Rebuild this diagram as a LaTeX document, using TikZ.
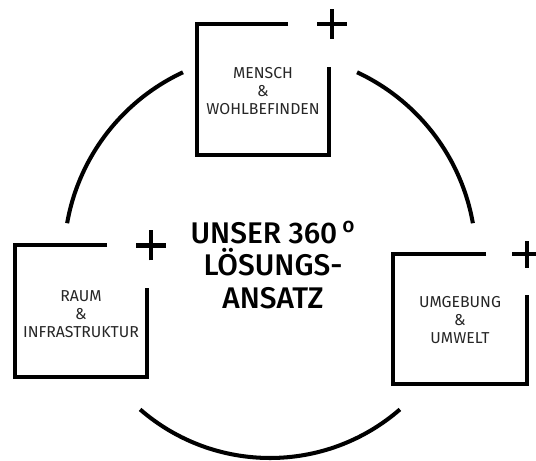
\documentclass[tikz,border=0pt]{standalone}
\usepackage{fontspec}
\setmainfont{Fira Sans}
\newfontfamily\midfont{Fira Sans Medium}
\usepackage{tikz}

\begin{document}
\begin{tikzpicture}[
		frame/.style={line width=2.3pt},
		boxlabel/.style={align=center,text=black!85,font=\fontsize{9}{10.4}\selectfont},
		title/.style={align=center,font=\midfont\fontsize{17}{18.4}\selectfont}
	]
			\useasboundingbox (0,0) rectangle (10.72,9.22);
			\coordinate (hub) at (5.40,4.04);
			\coordinate (lowhub) at (5.40,4.02);

			% Circle pieces
			\draw[frame] (hub) ++(115:4.12) arc (115:170:4.12);
			\draw[frame] (hub) ++(65:4.12) arc (65:10:4.12);
			\draw[frame] (lowhub) ++(229:3.96) arc (229:311:3.96);

			% Top box
			\draw[frame] (5.76,8.74) -- (3.94,8.74) -- (3.94,6.12) -- (6.58,6.12) -- (6.58,7.88);
			\draw[frame] (6.34,8.74) -- (6.94,8.74) (6.64,8.44) -- (6.64,9.04);
			\node[boxlabel] (mensch) at (5.26,7.40) {MENSCH\\\&\\WOHLBEFINDEN};

			% Left box
			\draw[frame] (2.14,4.32) -- (0.30,4.32) -- (0.30,1.68) -- (2.94,1.68) -- (2.94,3.46);
			\draw[frame] (2.72,4.31) -- (3.32,4.31) (3.02,4.01) -- (3.02,4.61);
			\node[boxlabel] (raum) at (1.62,2.94) {RAUM\\\&\\INFRASTRUKTUR};

			% Right box
			\draw[frame] (9.72,4.14) -- (7.86,4.14) -- (7.86,1.54) -- (10.54,1.54) -- (10.54,3.32);
			\draw[frame] (10.24,4.14) -- (10.84,4.14) (10.54,3.86) -- (10.54,4.40);
			\node[boxlabel] (umwelt) at (9.20,2.82) {UMGEBUNG\\\&\\UMWELT};

			% Centre
			\node[title] (ansatz) at (5.46,3.92) {UNSER 360\,\textsuperscript{o}\\LÖSUNGS-\\ANSATZ};
		\end{tikzpicture}
\end{document}
